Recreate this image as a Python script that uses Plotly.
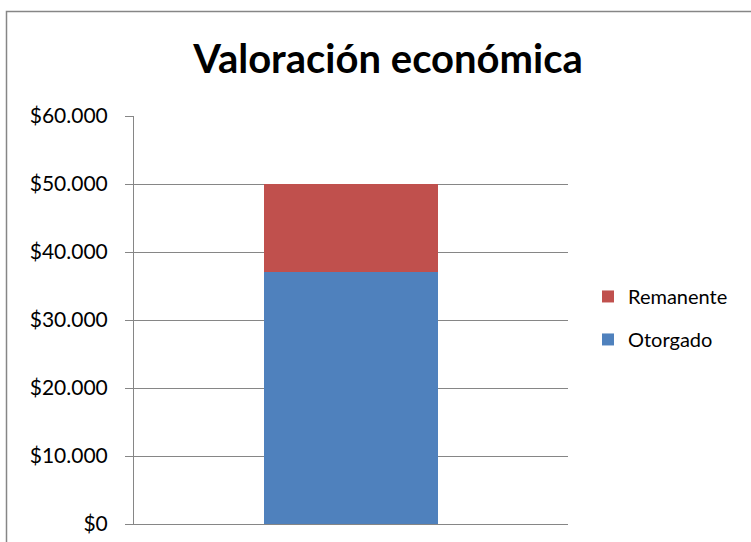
import plotly.graph_objects as go

categories = ["Valoración"]
otorgado = [37000]
remanente = [13000]
tick_values = [0, 10000, 20000, 30000, 40000, 50000, 60000]
tick_labels = ["$0", "$10.000", "$20.000", "$30.000", "$40.000", "$50.000", "$60.000"]

FONT = "Lato"

fig = go.Figure()
fig.add_trace(go.Bar(x=categories, y=otorgado, name="Otorgado", marker_color="#4F81BD",
                     marker_line_width=0, width=0.403, legendgroup="a", legendrank=2))
fig.add_trace(go.Bar(x=categories, y=remanente, name="Remanente", marker_color="#C0504D",
                     marker_line_width=0, width=0.403, legendgroup="b", legendrank=1))

fig.update_layout(
    width=751, height=542,
    barmode="stack",
    paper_bgcolor="white", plot_bgcolor="white",
    margin=dict(l=134, r=183, t=116, b=18),
    title=dict(text="<b>Valoración económica</b>", x=388/751, xanchor="center",
               y=1 - 59/542, yanchor="middle",
               font=dict(family=FONT, size=40, color="black")),
    font=dict(family=FONT, size=20, color="black"),
    showlegend=True,
    legend=dict(x=(588 - 134) / 434, xanchor="left", y=0.505, yanchor="middle",
                traceorder="grouped", tracegroupgap=14,
                font=dict(family=FONT, size=20, color="black")),
    xaxis=dict(showticklabels=False, showline=True, linecolor="#868686", linewidth=1,
               showgrid=False, ticks="", range=[-0.5, 0.5], automargin=False),
    yaxis=dict(range=[0, 60000], tickvals=tick_values, ticktext=tick_labels,
               showline=True, linecolor="#868686", linewidth=1,
               showgrid=True, gridcolor="#868686", gridwidth=1,
               ticks="outside", ticklen=8, tickcolor="#868686", ticklabelstandoff=13,
               zeroline=False, automargin=False,
               tickfont=dict(family=FONT, size=21, color="black")),
    shapes=[dict(type="rect", xref="paper", yref="paper",
                 x0=(6.5 - 134) / 434, x1=(770 - 134) / 434,
                 y0=(524 - 560) / 408, y1=(524 - 11.5) / 408,
                 line=dict(color="#868686", width=1.5), fillcolor="rgba(0,0,0,0)",
                 layer="below")],
)

fig.write_html("out.html", config={"displayModeBar": False},
               post_script="document.body.style.margin='0px';")
